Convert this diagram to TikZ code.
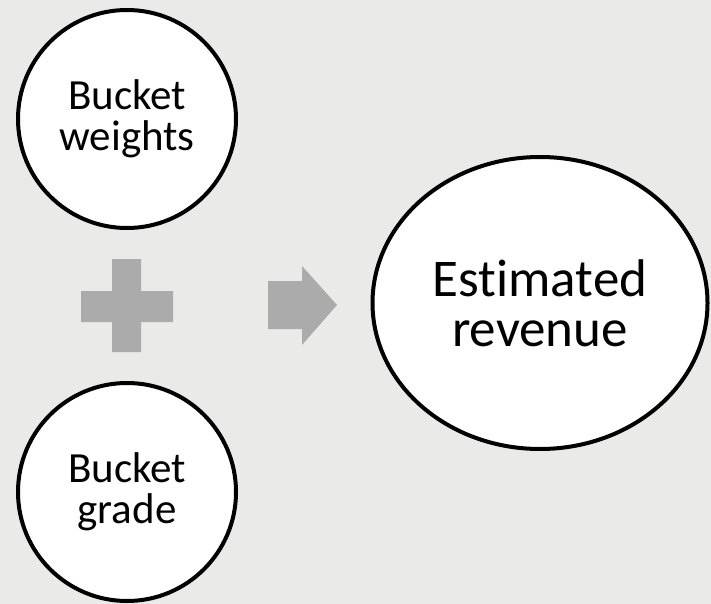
\documentclass[tikz,border=0pt]{standalone}
\usepackage{fontspec}
\setmainfont{Carlito}[Ligatures=NoCommon]
\usetikzlibrary{shapes.geometric}
\definecolor{bggray}{RGB}{234,234,232}
\definecolor{signgray}{RGB}{171,171,171}

\begin{document}
\begin{tikzpicture}[x=1pt,y=-1pt,
    bubble/.style={circle,draw=black,fill=white,line width=4pt,minimum size=218pt,
      inner sep=0pt,align=center,font=\fontsize{43}{41}\selectfont}]
      \fill[color=bggray] (0,0) rectangle (711,604);
      \useasboundingbox (0,0) rectangle (711,604);

      \node[bubble] (weights) at (127,119) {Bucket\\weights};
      \node[bubble] (grade) at (127,492) {Bucket\\grade};
      \node[ellipse,draw=black,fill=white,line width=4pt,minimum width=335pt,
            minimum height=292pt,inner sep=0pt,align=center,
            font=\fontsize{53}{50}\selectfont] (revenue) at (540,303) {Estimated\\revenue};

      % plus and arrow signs
      \fill[color=signgray]
            (81,291) rectangle (173,322)
            (112,259) rectangle (141,352);
      \fill[color=signgray]
            (268,281) -- (302,281) -- (302,266) -- (337,305)
            -- (302,345) -- (302,329) -- (268,329) -- cycle;
\end{tikzpicture}
\end{document}
